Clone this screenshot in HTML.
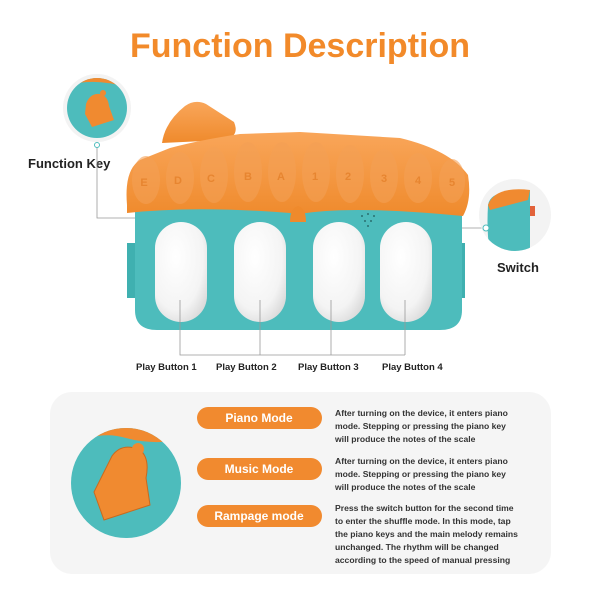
<!DOCTYPE html>
<html><head><meta charset="utf-8"><style>
body{margin:0;width:600px;height:600px;background:#fff;overflow:hidden;font-family:"Liberation Sans",sans-serif}
</style></head><body>
<svg width="600" height="600" viewBox="0 0 600 600" xmlns="http://www.w3.org/2000/svg">
<defs>
<radialGradient id="wk" cx="0.4" cy="0.35" r="0.75"><stop offset="0" stop-color="#fff"/><stop offset="0.7" stop-color="#f4f4f4"/><stop offset="1" stop-color="#d8d8d8"/></radialGradient>
<linearGradient id="or" x1="0" y1="0" x2="0" y2="1"><stop offset="0" stop-color="#f9a65a"/><stop offset="1" stop-color="#ef8a2c"/></linearGradient>
<clipPath id="c1"><circle cx="97" cy="108" r="30"/></clipPath>
<clipPath id="c2"><circle cx="126" cy="483" r="55"/></clipPath>
<clipPath id="c3"><circle cx="515" cy="215" r="36"/></clipPath>
</defs>
<text x="300" y="57" text-anchor="middle" font-size="34" font-weight="bold" fill="#f28a2a" font-family="Liberation Sans,sans-serif">Function Description</text>

<!-- function key circle -->
<circle cx="97" cy="108" r="34" fill="#f3f3f3"/>
<g clip-path="url(#c1)">
<rect x="60" y="70" width="80" height="80" fill="#4dbcbc"/>
<path d="M60 88 Q95 74 140 92 L140 70 L60 70Z" fill="#f08a30"/>
<path d="M86 104 Q90 93 100 94 Q108 96 109 106 L114 120 L92 127 L85 114 Z" fill="#f08a30"/>
<circle cx="103" cy="93" r="3" fill="#f08a30"/>
</g>
<text x="28" y="168" font-size="13" font-weight="bold" fill="#222">Function Key</text>
<polyline points="97,145 97,218 290,218" fill="none" stroke="#999" stroke-width="0.8"/>
<circle cx="97" cy="145" r="2.5" fill="#fff" stroke="#4dbcbc"/>

<!-- device body -->
<rect x="127" y="243" width="10" height="55" fill="#3fb0b0"/>
<rect x="455" y="243" width="10" height="55" fill="#3fb0b0"/>
<path d="M135 205 L462 205 L462 310 Q462 330 440 330 L157 330 Q135 330 135 310 Z" fill="#4dbcbc"/>
<!-- chimney -->
<path d="M162 143 Q165 122 185 106 Q195 99 206 104 L234 122 Q240 136 225 140 Z" fill="url(#or)"/>
<!-- roof -->
<path d="M127 205 Q124 170 140 160 L170 148 Q200 140 240 134 L300 132 L400 138 Q450 150 468 175 Q472 200 463 216 Q350 205 300 214 Q200 205 127 213 Z" fill="url(#or)"/>
<g fill="#f4a055" opacity="0.6">
<ellipse cx="146" cy="180" rx="14" ry="24"/><ellipse cx="180" cy="178" rx="14" ry="26"/><ellipse cx="214" cy="175" rx="14" ry="28"/><ellipse cx="248" cy="172" rx="14" ry="30"/><ellipse cx="282" cy="172" rx="14" ry="30"/><ellipse cx="316" cy="172" rx="14" ry="30"/><ellipse cx="350" cy="174" rx="14" ry="29"/><ellipse cx="384" cy="176" rx="14" ry="27"/><ellipse cx="418" cy="178" rx="14" ry="25"/><ellipse cx="452" cy="181" rx="13" ry="22"/>
</g>
<g font-size="11" fill="#e78530" text-anchor="middle" font-weight="bold">
<text x="144" y="186">E</text><text x="178" y="184">D</text><text x="211" y="182">C</text><text x="248" y="180">B</text><text x="281" y="180">A</text><text x="315" y="180">1</text><text x="348" y="180">2</text><text x="384" y="182">3</text><text x="418" y="184">4</text><text x="452" y="186">5</text>
</g>
<path d="M290 222 Q290 208 298 206 Q306 208 306 222 Z" fill="#ef8a2c"/>
<g fill="#2a6f6f"><circle cx="362" cy="216" r="1"/><circle cx="368" cy="214" r="1"/><circle cx="374" cy="216" r="1"/><circle cx="365" cy="221" r="1"/><circle cx="371" cy="221" r="1"/><circle cx="368" cy="226" r="1"/></g>
<!-- keys -->
<rect x="155" y="222" width="52" height="100" rx="26" fill="url(#wk)"/>
<rect x="234" y="222" width="52" height="100" rx="26" fill="url(#wk)"/>
<rect x="313" y="222" width="52" height="100" rx="26" fill="url(#wk)"/>
<rect x="380" y="222" width="52" height="100" rx="26" fill="url(#wk)"/>
<g fill="none" stroke="#999" stroke-width="0.8">
<polyline points="180,300 180,355 405,355"/><line x1="260" y1="300" x2="260" y2="355"/><line x1="331" y1="300" x2="331" y2="355"/><line x1="405" y1="300" x2="405" y2="355"/>
<line x1="462" y1="228" x2="485" y2="228"/>
</g>
<g font-size="9.5" fill="#222" font-weight="bold">
<text x="136" y="370">Play Button 1</text><text x="216" y="370">Play Button 2</text><text x="298" y="370">Play Button 3</text><text x="382" y="370">Play Button 4</text>
</g>
<!-- switch circle -->
<circle cx="515" cy="215" r="36" fill="#f3f3f3"/>
<g clip-path="url(#c3)">
<path d="M488 205 Q490 192 512 192 L530 190 L530 260 L492 260 Q486 240 488 205Z" fill="#4dbcbc"/>
<path d="M488 205 Q495 186 530 190 L528 200 L490 210Z" fill="#f08a30"/>
<rect x="530" y="206" width="5" height="10" fill="#e2623a"/>
</g>
<circle cx="486" cy="228" r="3" fill="#fff" stroke="#4dbcbc"/>
<text x="497" y="272" font-size="13" font-weight="bold" fill="#222">Switch</text>

<!-- bottom panel -->
<rect x="50" y="392" width="501" height="182" rx="22" fill="#f5f5f5"/>
<g clip-path="url(#c2)">
<rect x="70" y="428" width="112" height="112" fill="#4dbcbc"/>
<path d="M70 445 Q100 430 126 438 Q150 445 182 440 L182 428 L70 428Z" fill="#f08a30"/>
<path d="M94 492 Q104 472 112 456 Q122 442 140 450 Q150 458 146 478 L150 505 L104 520 Z" fill="#f08a30" stroke="#c96a1e" stroke-width="1"/>
<circle cx="138" cy="449" r="6" fill="#f08a30"/>
<circle cx="106" cy="508" r="5" fill="#f08a30"/>
</g>
<g fill="#f18a2f"><rect x="197" y="407" width="125" height="22" rx="11"/><rect x="197" y="458" width="125" height="22" rx="11"/><rect x="197" y="505" width="125" height="22" rx="11"/></g>
<g font-size="12" font-weight="bold" fill="#fff" text-anchor="middle"><text x="259" y="422">Piano Mode</text><text x="259" y="473">Music Mode</text><text x="259" y="520">Rampage mode</text></g>
<g font-size="8.6" fill="#333" font-weight="bold">
<text x="335" y="416">After turning on the device, it enters piano</text>
<text x="335" y="429">mode. Stepping or pressing the piano key</text>
<text x="335" y="442">will produce the notes of the scale</text>
<text x="335" y="464">After turning on the device, it enters piano</text>
<text x="335" y="477">mode. Stepping or pressing the piano key</text>
<text x="335" y="490">will produce the notes of the scale</text>
<text x="335" y="511">Press the switch button for the second time</text>
<text x="335" y="524">to enter the shuffle mode. In this mode, tap</text>
<text x="335" y="537">the piano keys and the main melody remains</text>
<text x="335" y="550">unchanged. The rhythm will be changed</text>
<text x="335" y="563">according to the speed of manual pressing</text>
</g>
</svg>
</body></html>
